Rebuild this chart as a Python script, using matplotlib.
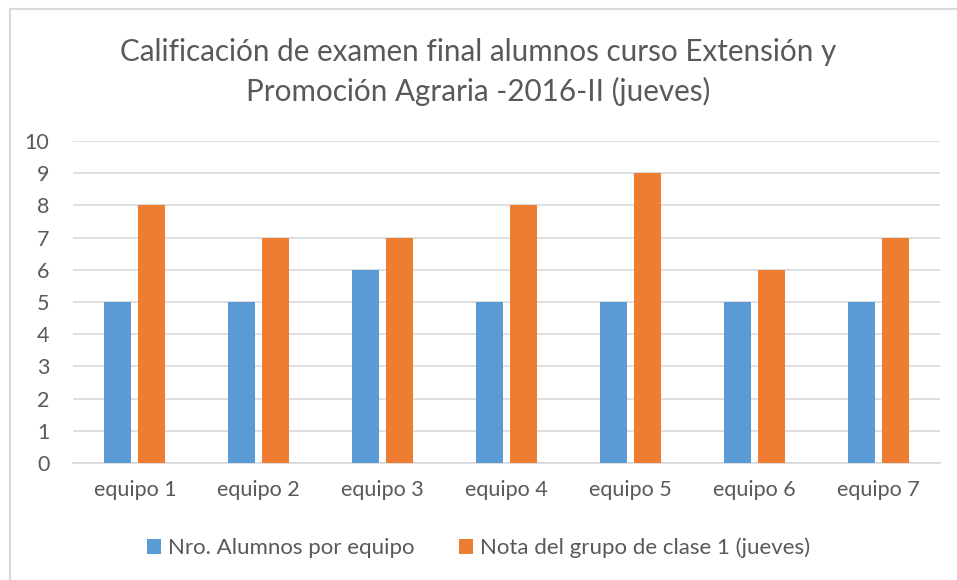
import matplotlib.pyplot as plt
from matplotlib.lines import Line2D
import numpy as np

# datos
equipos = ["equipo 1", "equipo 2", "equipo 3", "equipo 4",
           "equipo 5", "equipo 6", "equipo 7"]
alumnos = [5, 5, 6, 5, 5, 5, 5]
notas = [8, 7, 7, 8, 9, 6, 7]
serie_alumnos = "Nro. Alumnos por equipo"
serie_notas = "Nota del grupo de clase 1 (jueves)"
titulo = ("Calificación de examen final alumnos curso Extensión y\n"
          "Promoción Agraria -2016-II (jueves)")

plt.rcParams['font.family'] = ['Lato', 'DejaVu Sans']
gris = '#595959'

fig = plt.figure(figsize=(9.57, 5.8), dpi=100)
ax = fig.add_axes([73 / 957, 1 - 463 / 580, 867 / 957, 322 / 580])

x = np.arange(len(equipos))
ancho = 0.218
desp = 0.137
ax.bar(x - desp, alumnos, ancho, color='#5b9bd5', label=serie_alumnos, zorder=3)
ax.bar(x + desp, notas, ancho, color='#ed7d31', label=serie_notas, zorder=3)

ax.set_xlim(-0.5, len(equipos) - 0.5)
ax.set_ylim(0, 10)
ax.set_yticks(range(0, 11))
ax.set_xticks(x)
ax.set_xticklabels(equipos)
ax.grid(axis='y', color='#d9d9d9', linewidth=1.2, zorder=0)
ax.tick_params(axis='both', length=0, labelsize=15.5, labelcolor=gris)
ax.tick_params(axis='x', pad=12)
ax.tick_params(axis='y', pad=17)
for s in ['top', 'right', 'left']:
    ax.spines[s].set_visible(False)
ax.spines['bottom'].set_color('#d9d9d9')
ax.spines['bottom'].set_linewidth(1.2)

fig.text(0.5, 1 - 72 / 580, titulo, ha='center', va='center',
         fontsize=21.3, color=gris, linespacing=1.42)

ax.legend(loc='center', bbox_to_anchor=(0.5, 1 - 548 / 580),
          bbox_transform=fig.transFigure, ncol=2, frameon=False,
          fontsize=16, labelcolor=gris, handlelength=0.65,
          handleheight=0.65, handletextpad=0.3, columnspacing=2.0)

# borde del area del grafico
fig.add_artist(Line2D([10 / 957, 1], [1 - 9 / 580, 1 - 9 / 580],
                      transform=fig.transFigure, color='#d9d9d9', linewidth=1.5))
fig.add_artist(Line2D([10 / 957, 10 / 957], [0, 1 - 9 / 580],
                      transform=fig.transFigure, color='#d9d9d9', linewidth=1.5))

fig.savefig('out.png', dpi=100)
